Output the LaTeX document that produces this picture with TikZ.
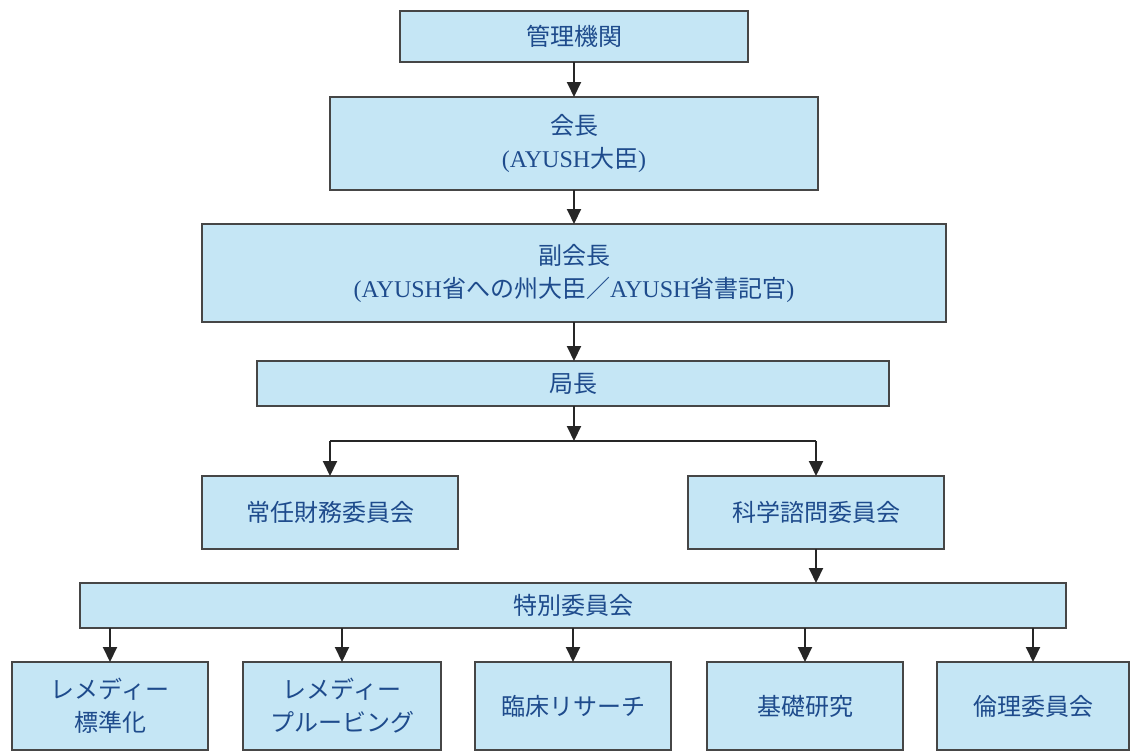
\documentclass[tikz,border=0pt]{standalone}
\usepackage{fontspec}
\setmainfont{Liberation Serif}
\newfontfamily\cjk{Noto Sans CJK JP}
\usetikzlibrary{arrows.meta}
\definecolor{boxfill}{RGB}{197,230,245}
\definecolor{boxline}{RGB}{70,70,70}
\definecolor{txt}{RGB}{30,75,140}
\tikzset{
  orgbox/.style={draw=boxline, fill=boxfill, line width=2pt, inner sep=0pt, outer sep=0pt,
    align=center, text=txt, font=\fontsize{24}{33}\selectfont\cjk},
  arr/.style={line width=2pt, draw=black!85, -{Triangle[width=14pt,length=15pt]}},
  conn/.style={line width=2pt, draw=black!85}
}
\newcommand{\bx}[7]{% name, left, top, right, bottom, text
  \node[orgbox, minimum width={#4-#2}, minimum height={#5-#3}] (#1) at ({(#2+#4)/2},{(#3+#5)/2}) {#6};}
\begin{document}
\begin{tikzpicture}[x=1pt,y=-1pt]
\useasboundingbox[fill=white] (0,0) rectangle (1131,752);
\bx{b1}{400}{11}{748}{62}{管理機関}{}
\bx{b2}{330}{97}{818}{190}{会長\\{\rmfamily(AYUSH}大臣{\rmfamily)}}{}
\bx{b3}{202}{224}{946}{322}{副会長\\{\rmfamily(AYUSH}省への州大臣／{\rmfamily AYUSH}省書記官{\rmfamily)}}{}
\bx{b4}{257}{361}{889}{406}{局長}{}
\bx{b5}{202}{476}{458}{549}{常任財務委員会}{}
\bx{b6}{688}{476}{944}{549}{科学諮問委員会}{}
\bx{sp}{80}{583}{1066}{628}{特別委員会}{}
\bx{c1}{12}{662}{208}{750}{レメディー\\標準化}{}
\bx{c2}{243}{662}{441}{750}{レメディー\\プルービング}{}
\bx{c3}{475}{662}{671}{750}{臨床リサーチ}{}
\bx{c4}{707}{662}{903}{750}{基礎研究}{}
\bx{c5}{937}{662}{1129}{750}{倫理委員会}{}
\draw[arr] (b1.south) -- (b1.south |- b2.north);
\draw[arr] (b2.south) -- (b2.south |- b3.north);
\draw[arr] (b3.south) -- (b3.south |- b4.north);
\coordinate (j) at (574,441);
\draw[arr] (b4.south -| j) -- (j);
\draw[conn] (b5.north |- j) -- (b6.north |- j);
\draw[arr] (b5.north |- j) -- (b5.north);
\draw[arr] (b6.north |- j) -- (b6.north);
\draw[arr] (b6.south) -- (b6.south |- sp.north);
\foreach \c in {c1,c2,c3,c4,c5}
  \draw[arr] (\c.north |- sp.south) -- (\c.north);
\end{tikzpicture}
\end{document}
